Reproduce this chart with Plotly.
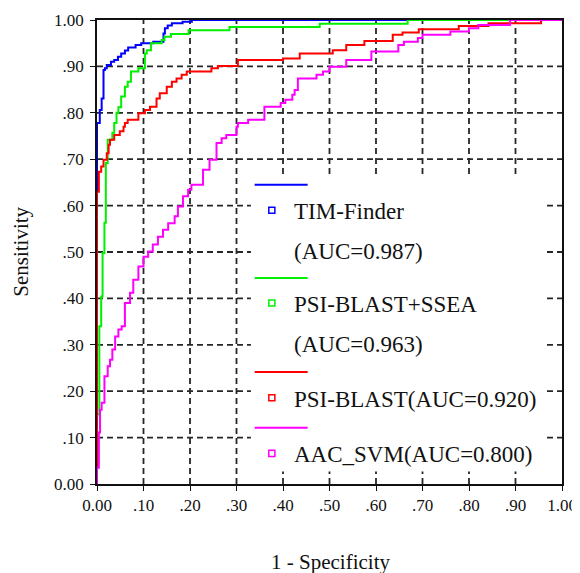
import plotly.graph_objects as go

# ---------------- DATA ----------------
tick_vals = [0.0, 0.1, 0.2, 0.3, 0.4, 0.5, 0.6, 0.7, 0.8, 0.9, 1.0]
tick_text = ["0.00", ".10", ".20", ".30", ".40", ".50", ".60", ".70", ".80", ".90", "1.00"]

series_names = ["TIM-Finder", "PSI-BLAST+SSEA", "PSI-BLAST", "AAC_SVM"]
series_auc = ["0.987", "0.963", "0.920", "0.800"]

tim_fpr = [0, 0, 0.006, 0.010, 0.014, 0.017, 0.021, 0.030, 0.037, 0.045, 0.052, 0.060,
           0.067, 0.083, 0.095, 0.121, 0.143, 0.146, 0.152, 0.161, 0.184, 0.204, 1.0]
tim_tpr = [0, 0.778, 0.806, 0.831, 0.892, 0.896, 0.903, 0.910, 0.914, 0.921, 0.928, 0.934,
           0.941, 0.946, 0.950, 0.953, 0.971, 0.982, 0.988, 0.993, 0.996, 1.0, 1.0]

ssea_fpr = [0, 0, 0.005, 0.009, 0.012, 0.016, 0.019, 0.023, 0.033, 0.037, 0.042, 0.046,
            0.052, 0.060, 0.066, 0.073, 0.089, 0.103, 0.107, 0.116, 0.139, 0.145, 0.159,
            0.197, 0.285, 0.479, 0.668, 1.0]
ssea_tpr = [0, 0.150, 0.340, 0.404, 0.498, 0.563, 0.692, 0.742, 0.757, 0.778, 0.800, 0.812,
            0.835, 0.856, 0.867, 0.889, 0.896, 0.928, 0.935, 0.950, 0.957, 0.964, 0.970,
            0.978, 0.985, 0.992, 1.0, 1.0]

psi_fpr = [0, 0, 0.004, 0.009, 0.014, 0.021, 0.025, 0.028, 0.037, 0.049, 0.057, 0.060,
           0.066, 0.089, 0.103, 0.114, 0.128, 0.135, 0.150, 0.161, 0.171, 0.182, 0.193,
           0.246, 0.260, 0.303, 0.400, 0.436, 0.507, 0.536, 0.575, 0.636, 0.657, 0.692,
           0.778, 0.842, 0.955, 1.0]
psi_tpr = [0, 0.630, 0.673, 0.684, 0.699, 0.713, 0.731, 0.742, 0.752, 0.760, 0.770, 0.778,
           0.785, 0.799, 0.806, 0.813, 0.831, 0.842, 0.856, 0.867, 0.874, 0.882, 0.889,
           0.896, 0.901, 0.914, 0.917, 0.928, 0.935, 0.946, 0.955, 0.968, 0.973, 0.980,
           0.987, 0.993, 1.0, 1.0]

aac_fpr = [0, 0, 0.004, 0.0065, 0.010, 0.016, 0.023, 0.028, 0.033, 0.039, 0.046, 0.053,
           0.060, 0.071, 0.078, 0.089, 0.100, 0.110, 0.120, 0.131, 0.142, 0.153, 0.167,
           0.174, 0.185, 0.196, 0.203, 0.228, 0.242, 0.257, 0.268, 0.278, 0.300, 0.303,
           0.325, 0.360, 0.395, 0.405, 0.420, 0.425, 0.432, 0.472, 0.486, 0.500, 0.536,
           0.590, 0.648, 0.660, 0.690, 0.700, 0.760, 0.800, 0.820, 0.888, 1.0]
aac_tpr = [0, 0.035, 0.111, 0.160, 0.175, 0.232, 0.254, 0.268, 0.290, 0.318, 0.333, 0.340,
           0.390, 0.412, 0.440, 0.469, 0.490, 0.501, 0.516, 0.533, 0.548, 0.562, 0.577,
           0.598, 0.620, 0.634, 0.645, 0.677, 0.699, 0.735, 0.745, 0.752, 0.770, 0.778,
           0.785, 0.813, 0.821, 0.828, 0.839, 0.849, 0.874, 0.882, 0.889, 0.899, 0.914,
           0.932, 0.946, 0.953, 0.961, 0.968, 0.975, 0.982, 0.989, 1.0, 1.0]

# ---------------- STYLE ----------------
colors = ["#0000ff", "#00f000", "#ff0000", "#ff00ff"]
FONT = "Liberation Serif"
GRID = "#262626"

fig = go.Figure()
for name, fx, ty, c in zip(series_names,
                           [tim_fpr, ssea_fpr, psi_fpr, aac_fpr],
                           [tim_tpr, ssea_tpr, psi_tpr, aac_tpr],
                           colors):
    fig.add_trace(go.Scatter(x=fx, y=ty, mode="lines", name=name,
                             line=dict(color=c, width=2, shape="hv"),
                             showlegend=False, hoverinfo="x+y+name"))

axis_common = dict(
    range=[0, 1], tickvals=tick_vals, ticktext=tick_text, automargin=False,
    showgrid=False, zeroline=False,
    showline=True, mirror=True, linecolor="#111111", linewidth=1.6,
    ticks="outside", ticklen=5, tickcolor="#111111", tickwidth=1.4,
    tickfont=dict(family=FONT, size=17, color="#111111"),
    fixedrange=True,
)

fig.update_xaxes(**axis_common)
fig.update_yaxes(**axis_common, ticklabelstandoff=3)

shapes = []
# dashed grid at every interior tick (drawn under the curves)
for v in tick_vals[1:-1]:
    shapes.append(dict(type="line", xref="x", yref="paper", x0=v, x1=v, y0=0, y1=1,
                       line=dict(color=GRID, width=1.8, dash="6px,4px"), layer="below"))
    shapes.append(dict(type="line", xref="paper", yref="y", x0=0, x1=1, y0=v, y1=v,
                       line=dict(color=GRID, width=1.8, dash="6px,4px"), layer="below"))

# legend box (white, borderless)
shapes.append(dict(type="rect", xref="paper", yref="paper", x0=0.331, x1=0.963,
                   y0=0.027, y1=0.664, line=dict(width=0), fillcolor="white",
                   layer="above"))

legend_line_y = [0.645, 0.444, 0.2415, 0.121]
legend_mark_y = [0.590, 0.390, 0.186, 0.066]
legend_text = ["TIM-Finder", "PSI-BLAST+SSEA",
               "PSI-BLAST(AUC=" + series_auc[2] + ")",
               "AAC_SVM(AUC=" + series_auc[3] + ")"]
legend_text_y = [0.588, 0.386, 0.183, 0.0635]
legend_sub = [("(AUC=" + series_auc[0] + ")", 0.501), ("(AUC=" + series_auc[1] + ")", 0.300)]

sq = 0.0065
for c, ly, my in zip(colors, legend_line_y, legend_mark_y):
    shapes.append(dict(type="line", xref="paper", yref="paper", x0=0.339, x1=0.453,
                       y0=ly, y1=ly, line=dict(color=c, width=2), layer="above"))
    shapes.append(dict(type="rect", xref="paper", yref="paper", x0=0.376 - sq, x1=0.376 + sq,
                       y0=my - sq, y1=my + sq, line=dict(color=c, width=1.5),
                       fillcolor="white", layer="above"))

annotations = []
for t, ty in list(zip(legend_text, legend_text_y)) + legend_sub:
    annotations.append(dict(text=t, xref="paper", yref="paper", x=0.420, y=ty,
                            xanchor="left", yanchor="middle", showarrow=False,
                            font=dict(family=FONT, size=23, color="#111111")))

# axis titles
annotations.append(dict(text="Sensitivity", xref="paper", yref="paper", x=-0.164, y=0.5,
                        textangle=-90, xanchor="center", yanchor="middle", showarrow=False,
                        font=dict(family=FONT, size=21, color="#111111")))
annotations.append(dict(text="1 - Specificity", xref="paper", yref="paper", x=0.503, y=-0.169,
                        xanchor="center", yanchor="middle", showarrow=False,
                        font=dict(family=FONT, size=21, color="#111111")))

# page body has an 8px margin, so the figure is 8px smaller with 8px less left/top margin
fig.update_layout(
    width=572, height=565,
    margin=dict(l=89, r=18, t=12, b=89, autoexpand=False),
    paper_bgcolor="white", plot_bgcolor="rgba(0,0,0,0)",
    shapes=shapes, annotations=annotations,
    showlegend=False,
    font=dict(family=FONT, color="#111111"),
)

fig.write_html("out.html")
